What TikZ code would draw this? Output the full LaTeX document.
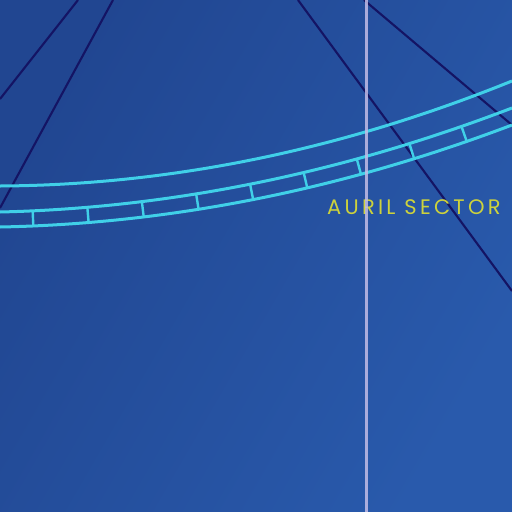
\documentclass[tikz,border=0pt]{standalone}
\usepackage{fontspec}
\newfontfamily\lblfont[LetterSpace=15.5]{Poppins}
\usetikzlibrary{decorations.markings}
\definecolor{bgdark}{RGB}{33,70,145}
\definecolor{bglight}{RGB}{41,90,172}
\definecolor{navyline}{RGB}{20,20,100}
\definecolor{cyanline}{RGB}{64,208,232}
\definecolor{lavline}{RGB}{195,188,230}
\definecolor{sectoryellow}{RGB}{205,210,60}
\tikzset{
  beam/.style={draw=navyline, line width=2.1pt},
  rail/.style={draw=cyanline, line width=3pt},
  tie/.style={draw=cyanline, line width=2.4pt},
  meridian/.style={draw=lavline, line width=3pt, opacity=0.85},
  sectorlabel/.style={text=sectoryellow, font=\lblfont\fontsize{21}{21}\selectfont, anchor=base west, inner sep=0pt}
}
\begin{document}
\begin{tikzpicture}[x=1pt,y=-1pt]
\useasboundingbox (0,0) rectangle (512,512);
\shade[top color=bgdark, bottom color=bglight, shading angle=60] (0,0) rectangle (512,512);
\begin{scope}
\clip (0,0) rectangle (512,512);
% navy beams
\coordinate (b1s) at (0,99);   \coordinate (b1e) at (78,0);
\coordinate (b2s) at (0,208);  \coordinate (b2e) at (113,0);
\coordinate (b3s) at (298,0);  \coordinate (b3e) at (512,291);
\coordinate (b4s) at (364,0);  \coordinate (b4e) at (512,125);
\draw[beam] (b1s) -- (b1e);
\draw[beam] (b2s) -- (b2e);
\draw[beam] (b3s) -- (b3e);
\draw[beam] (b4s) -- (b4e);
% single cyan arc
\coordinate (s0) at (0,186);  \coordinate (s1) at (512,81);
\draw[rail] (s0) .. controls (170.67,185) and (341.33,150) .. (s1);
% track rails
\coordinate (u0) at (0,212);  \coordinate (u1) at (512,108);
\coordinate (l0) at (0,227);  \coordinate (l1) at (512,125);
\coordinate (m0) at (0,219.5); \coordinate (m1) at (512,116.5);
\draw[rail] (u0) .. controls (170.67,208) and (341.33,173.33) .. (u1);
\draw[rail] (l0) .. controls (170.67,223.67) and (341.33,189.67) .. (l1);
\path[postaction={decorate}, decoration={markings,
   mark=between positions 33pt and 490pt step 55.1pt with {\draw[tie] (0pt,-7.5pt) -- (0pt,7.5pt);}}]
  (m0) .. controls (170.67,215.83) and (341.33,181.5) .. (m1);
% label
\node[sectorlabel] (label) at (327,214) {AURIL SECTOR};
% meridian
\coordinate (v0) at (366,0); \coordinate (v1) at (366,512);
\draw[meridian] (v0) -- (v1);
\end{scope}
\end{tikzpicture}
\end{document}
